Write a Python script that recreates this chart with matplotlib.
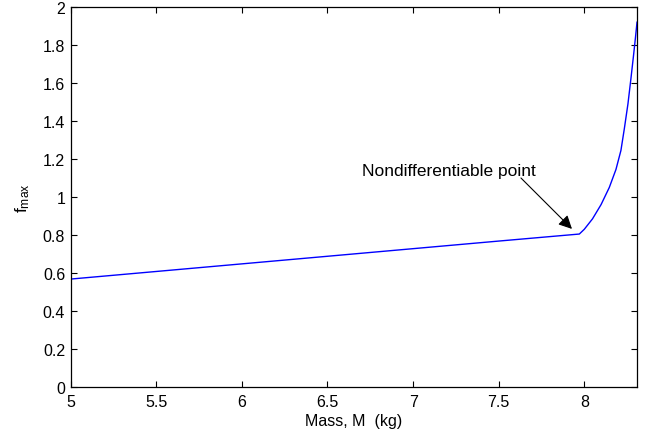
import matplotlib
matplotlib.use("Agg")
from matplotlib import pyplot as plt

plt.rcParams['font.family'] = ['Liberation Sans', 'DejaVu Sans']
plt.rcParams['mathtext.fontset'] = 'custom'
plt.rcParams['mathtext.rm'] = 'Liberation Sans'
plt.rcParams['mathtext.it'] = 'Liberation Sans'

# values
mass = [5.0, 5.5, 6.0, 6.5, 7.0, 7.5, 7.971, 8.000, 8.048, 8.098, 8.146, 8.185,
        8.214, 8.234, 8.255, 8.272, 8.287, 8.299, 8.308]
fmax = [0.568, 0.608, 0.648, 0.688, 0.728, 0.768, 0.805, 0.830, 0.885, 0.960, 1.050, 1.145,
        1.245, 1.360, 1.490, 1.620, 1.740, 1.840, 1.920]

xticks = [5, 5.5, 6, 6.5, 7, 7.5, 8]
yticks = [0, 0.2, 0.4, 0.6, 0.8, 1, 1.2, 1.4, 1.6, 1.8, 2]

fig = plt.figure(figsize=(6.51, 4.39), dpi=100)
ax = fig.add_axes([0.1086, 0.1162, 0.8694, 0.8656])
ax.plot(mass, fmax, color='#0000ff', lw=1)

ax.set_xlim(5, 8.306)
ax.set_ylim(0, 2)
ax.set_xticks(xticks)
ax.set_xticklabels(['5', '5.5', '6', '6.5', '7', '7.5', '8'])
ax.set_yticks(yticks)
ax.set_yticklabels(['0', '0.2', '0.4', '0.6', '0.8', '1', '1.2', '1.4', '1.6', '1.8', '2'])
ax.tick_params(direction='in', top=True, right=True, length=4, labelsize=11.5, width=0.8)
ax.tick_params(axis='x', pad=5)
ax.tick_params(axis='y', pad=4)
for s in ax.spines.values():
    s.set_linewidth(0.9)

ax.set_xlabel('Mass, M  (kg)', fontsize=11.5, labelpad=3)
ax.set_ylabel(r'$\mathregular{f_{max}}$', fontsize=12.5, labelpad=8)

ax.text(6.704, 1.137, 'Nondifferentiable point', fontsize=12.5, va='center', ha='left')
ax.annotate('', xy=(7.928, 0.832), xytext=(7.630, 1.100),
            arrowprops=dict(arrowstyle='-|>', color='black', lw=0.8,
                            mutation_scale=20, shrinkA=0, shrinkB=0))

fig.savefig('out.png', dpi=100)
